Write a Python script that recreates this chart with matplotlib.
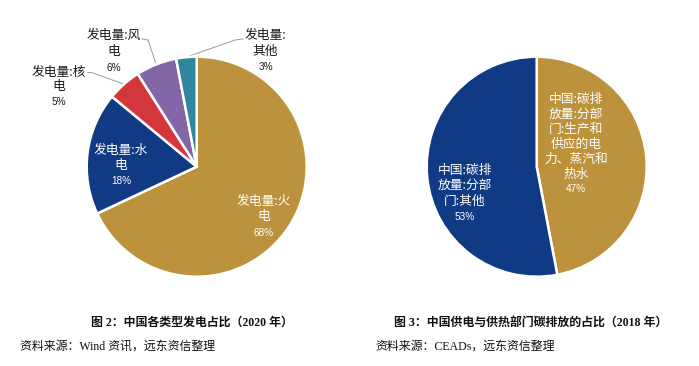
import numpy as np
import matplotlib
matplotlib.use("Agg")
import matplotlib.pyplot as plt

# ---------------- data ----------------
left_labels = ["发电量:火\n电", "发电量:水\n电", "发电量:核\n电", "发电量:风\n电", "发电量:\n其他"]
left_values = [68, 18, 5, 6, 3]
left_colors = ["#BD923C", "#113A84", "#D3363B", "#8466A6", "#31869E"]

right_labels = ["中国:碳排\n放量:分部\n门:生产和\n供应的电\n力、蒸汽和\n热水", "中国:碳排\n放量:分部\n门:其他"]
right_values = [47, 53]
right_colors = ["#BD923C", "#113A84"]

caption_left = "图 2：中国各类型发电占比（2020 年）"
caption_right = "图 3：中国供电与供热部门碳排放的占比（2018 年）"
source_left = "资料来源：Wind 资讯，远东资信整理"
source_right = "资料来源：CEADs，远东资信整理"

# ---------------- layout ----------------
W, H = 699, 366
fig = plt.figure(figsize=(W / 100, H / 100), dpi=100)
fig.patch.set_facecolor("white")

CJK = ["Noto Sans CJK SC", "DejaVu Sans"]
NUM = ["Liberation Sans", "Noto Sans CJK SC"]
SERIF = ["Liberation Serif", "Noto Sans CJK SC"]
R = 110.0


def make_ax(cx, cy):
    ax = fig.add_axes([(cx - R) / W, (H - cy - R) / H, 2 * R / W, 2 * R / H])
    ax.axis("off")
    return ax


def fix_limits(ax):
    ax.set_xlim(-1, 1)
    ax.set_ylim(-1, 1)
    ax.set_aspect("equal")


def px(ax_c, p):
    cx, cy = ax_c
    return ((p[0] - cx) / R, (cy - p[1]) / R)


def label(ax, c, name, pct, xc, y0, pitch, color):
    lines = name.split("\n")
    for k, ln in enumerate(lines):
        x, y = px(c, (xc, y0 + k * pitch))
        ax.text(x, y, ln, ha="center", va="center", fontsize=9.2, family=CJK,
                color=color, clip_on=False)
    x, y = px(c, (xc, y0 + len(lines) * pitch + 0.5))
    ax.text(x, y, pct, ha="center", va="center", fontsize=7.2, family=NUM,
            color=color, clip_on=False)


# ---- left pie ----
cL = (196.7, 166.7)
axL = make_ax(*cL)
wedges, _ = axL.pie(left_values, colors=left_colors, startangle=90, counterclock=False,
                    radius=1, wedgeprops=dict(edgecolor="white", linewidth=1.8))
fix_limits(axL)

# label placements: centre x, first-line centre y, line pitch (pixels)
lab_pos = [(264, 201.5, 15.3), (121, 150, 15.3), (59, 72, 14.6), (114, 35.7, 16), (265.5, 35.7, 15.5)]
text_cols = ["white", "white", "#1a1a1a", "#1a1a1a", "#1a1a1a"]
for i in range(len(left_values)):
    xc, y0, p = lab_pos[i]
    label(axL, cL, left_labels[i], f"{left_values[i]}%", xc, y0, p, text_cols[i])

# leader lines for outside labels: from label end, elbow, to wedge mid-point
leader = {2: [(88, 72.5), (92, 72.7)], 3: [(142, 39), (148, 40)], 4: [(243, 39), (235, 40)]}
for i, pts in leader.items():
    w = wedges[i]
    mid = np.deg2rad((w.theta1 + w.theta2) / 2)
    end = (np.cos(mid), np.sin(mid))
    p0 = px(cL, pts[0])
    p1 = px(cL, pts[1])
    axL.plot([p0[0], p1[0], end[0]], [p0[1], p1[1], end[1]], color="#A6A6A6",
             lw=0.8, clip_on=False, zorder=0.5)

# ---- right pie ----
cR = (536.7, 166.7)
axR = make_ax(*cR)
axR.pie(right_values, colors=right_colors, startangle=90, counterclock=False,
        radius=1, wedgeprops=dict(edgecolor="white", linewidth=1.8))
fix_limits(axR)
label(axR, cR, right_labels[0], f"{right_values[0]}%", 576, 99, 15.0, "white")
label(axR, cR, right_labels[1], f"{right_values[1]}%", 465, 170, 15.5, "white")

# ---- captions ----
fig.text(192 / W, 1 - 323 / H, caption_left, ha="center", va="center", fontsize=8.6,
         family=SERIF, fontweight="bold", color="#111111")
fig.text(531 / W, 1 - 323 / H, caption_right, ha="center", va="center", fontsize=8.6,
         family=SERIF, fontweight="bold", color="#111111")
fig.text(20 / W, 1 - 347 / H, source_left, ha="left", va="center", fontsize=8.6,
         family=SERIF, color="#111111")
fig.text(375 / W, 1 - 347 / H, source_right, ha="left", va="center", fontsize=8.6,
         family=SERIF, color="#111111")

fig.savefig("out.png", dpi=100, facecolor="white")
